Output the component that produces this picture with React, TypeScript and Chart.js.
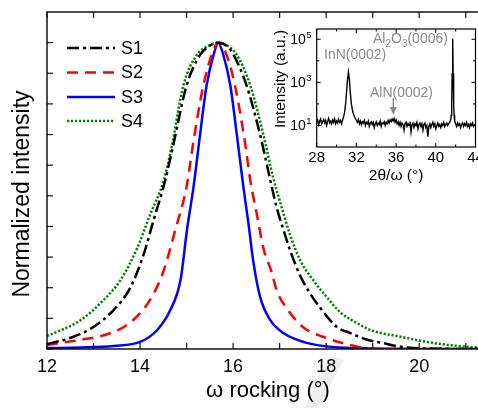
import React, { useEffect, useRef } from 'react';
import { Chart, registerables } from 'chart.js';

Chart.register(...registerables);

const FONT = "'Liberation Sans', Arial, Helvetica, sans-serif";
Chart.defaults.font.family = FONT;

// ---------------- Main panel: normalized rocking curves ----------------
const seriesNames = ['S1', 'S2', 'S3', 'S4'];

const s1Omega = [12, 12.57, 13.0, 13.43, 13.79, 14.08, 14.29, 14.54, 14.72, 15.0, 15.29, 15.5, 15.68, 15.86, 16.01, 16.29, 16.58, 16.8, 16.94, 17.08, 17.23, 17.44, 17.66, 17.87, 18.23, 18.52, 18.88, 19.2, 19.5, 20.0, 21.5];
const s1Intensity = [0.016, 0.04, 0.072, 0.127, 0.2, 0.31, 0.42, 0.55, 0.67, 0.86, 0.96, 0.99, 1.0, 0.99, 0.96, 0.86, 0.7, 0.55, 0.46, 0.39, 0.32, 0.24, 0.18, 0.135, 0.072, 0.052, 0.03, 0.02, 0.01, 0.002, 0.0];

const s2Omega = [12, 12.72, 13.22, 13.65, 14.0, 14.29, 14.51, 14.76, 15.0, 15.15, 15.36, 15.54, 15.68, 15.86, 16.04, 16.26, 16.37, 16.51, 16.65, 16.83, 16.94, 17.18, 17.5, 18.02, 18.52, 18.8, 19.2, 21.5];
const s2Intensity = [0.013, 0.03, 0.045, 0.072, 0.117, 0.18, 0.257, 0.39, 0.53, 0.68, 0.86, 0.96, 1.0, 0.96, 0.86, 0.67, 0.55, 0.44, 0.33, 0.25, 0.19, 0.127, 0.072, 0.035, 0.013, 0.004, 0.0, 0.0];

const s3Omega = [12, 12.72, 13.43, 14.0, 14.37, 14.65, 14.87, 15.01, 15.15, 15.29, 15.43, 15.58, 15.68, 15.79, 15.94, 16.08, 16.22, 16.33, 16.43, 16.58, 16.8, 17.08, 17.58, 18.3, 19.0, 21.5];
const s3Intensity = [0.003, 0.005, 0.01, 0.023, 0.062, 0.127, 0.225, 0.39, 0.53, 0.7, 0.86, 0.96, 1.0, 0.96, 0.86, 0.7, 0.53, 0.41, 0.29, 0.17, 0.094, 0.052, 0.02, 0.005, 0.002, 0.0];

const s4Omega = [12, 12.72, 13.15, 13.58, 13.94, 14.22, 14.51, 14.68, 14.93, 15.22, 15.48, 15.68, 15.88, 16.08, 16.37, 16.65, 16.86, 17.01, 17.23, 17.44, 17.72, 18.01, 18.3, 18.66, 18.95, 19.6, 20.17, 20.7, 21.16, 21.5];
const s4Intensity = [0.042, 0.094, 0.15, 0.225, 0.33, 0.44, 0.55, 0.66, 0.86, 0.96, 0.99, 1.0, 0.99, 0.96, 0.86, 0.7, 0.56, 0.48, 0.37, 0.29, 0.225, 0.17, 0.12, 0.085, 0.062, 0.04, 0.023, 0.012, 0.006, 0.004];

const omegaLabelTicks = [12, 14, 16, 18, 20];
const omegaMinorTicks = [12, 13, 14, 15, 16, 17, 18, 19, 20, 21];
const intensityTicks = [0, 0.1, 0.2, 0.3, 0.4, 0.5, 0.6, 0.7, 0.8, 0.9, 1.0];

// ---------------- Inset: 2theta/omega scan ----------------
const scanAngle = [
  28.0, 28.1, 28.2, 28.3, 28.4, 28.5, 28.6, 28.7, 28.8, 28.9,
  29.0, 29.1, 29.2, 29.3, 29.4, 29.5, 29.6, 29.7, 29.8, 29.9,
  30.0, 30.1, 30.2, 30.3, 30.4, 30.5, 30.6, 30.7, 30.8, 30.9,
  31.0, 31.1, 31.2, 31.3, 31.4, 31.5, 31.6, 31.7, 31.8, 31.9,
  32.0, 32.1, 32.2, 32.3, 32.4, 32.5, 32.6, 32.7, 32.8, 32.9,
  33.0, 33.1, 33.2, 33.3, 33.4, 33.5, 33.6, 33.7, 33.8, 33.9,
  34.0, 34.1, 34.2, 34.3, 34.4, 34.5, 34.6, 34.7, 34.8, 34.9,
  35.0, 35.1, 35.2, 35.3, 35.4, 35.5, 35.6, 35.7, 35.8, 35.9,
  36.0, 36.1, 36.2, 36.3, 36.4, 36.5, 36.6, 36.7, 36.8, 36.9,
  37.0, 37.1, 37.2, 37.3, 37.4, 37.5, 37.6, 37.7, 37.8, 37.9,
  38.0, 38.1, 38.2, 38.3, 38.4, 38.5, 38.6, 38.7, 38.8, 38.9,
  39.0, 39.1, 39.2, 39.3, 39.4, 39.5, 39.6, 39.7, 39.8, 39.9,
  40.0, 40.1, 40.2, 40.3, 40.4, 40.5, 40.6, 40.7, 40.8, 40.9,
  41.0, 41.1, 41.2, 41.3, 41.4, 41.5, 41.55, 41.6, 41.65, 41.7, 41.75, 41.8, 41.85, 41.9,
  42.0, 42.1, 42.2, 42.3, 42.4, 42.5, 42.6, 42.7, 42.8, 42.9,
  43.0, 43.1, 43.2, 43.3, 43.4, 43.5, 43.6, 43.7, 43.8, 43.9, 44.0,
];
const scanCounts = [
  14, 18, 11, 16, 20, 12, 15, 19, 13, 17,
  10, 15, 21, 13, 16, 12, 18, 14, 20, 12,
  16, 13, 19, 14, 17, 12, 18, 24, 38, 85,
  320, 1300, 3000, 1200, 280, 95, 52, 34, 26, 21,
  17, 14, 19, 12, 16, 11, 15, 13, 17, 10,
  14, 12, 16, 9, 13, 15, 11, 14, 8, 12,
  15, 10, 13, 11, 16, 9, 13, 12, 15, 10,
  14, 12, 17, 13, 18, 15, 20, 16, 21, 14,
  18, 12, 15, 10, 14, 9, 13, 11, 6, 12,
  14, 9, 12, 10, 15, 5, 11, 13, 8, 12,
  10, 14, 7, 11, 13, 9, 12, 6, 11, 13,
  8, 10, 3, 9, 12, 8, 11, 14, 9, 12,
  7, 10, 13, 9, 11, 8, 12, 10, 14, 9,
  11, 13, 10, 12, 14, 18, 30, 120, 2500, 110000, 2500, 90, 30, 16,
  12, 9, 13, 10, 12, 8, 11, 13, 9, 12,
  10, 14, 9, 11, 8, 12, 10, 13, 9, 11, 10,
];
const insetAngleTicks = [28, 32, 36, 40, 44];
const insetAngleMinor = [30, 34, 38, 42];
const insetDecadeTicks = [10, 1000, 100000];
const insetDecadeExponents = ['1', '3', '5'];
const insetMinorDecades = [100, 10000];

const toPoints = (xs: number[], ys: number[]) => xs.map((x, i) => ({ x, y: ys[i] }));

const line = (ctx: CanvasRenderingContext2D, x1: number, y1: number, x2: number, y2: number) => {
  ctx.beginPath();
  ctx.moveTo(x1, y1);
  ctx.lineTo(x2, y2);
  ctx.stroke();
};

const mainDecor = {
  id: 'mainDecor',
  beforeDraw(chart: any) {
    const { ctx } = chart;
    ctx.save();
    ctx.fillStyle = '#ffffff';
    ctx.fillRect(0, 0, chart.width, chart.height);
    // faint watermark stroke
    ctx.fillStyle = '#eeeeee';
    ctx.beginPath();
    ctx.moveTo(302, 412);
    ctx.lineTo(316, 412);
    ctx.lineTo(344, 360);
    ctx.lineTo(331, 355);
    ctx.closePath();
    ctx.fill();
    ctx.restore();
  },
  afterDraw(chart: any) {
    const { ctx, chartArea, scales } = chart;
    const { left, top, right, bottom } = chartArea;
    const x = scales.x;
    const y = scales.y;
    ctx.save();
    ctx.strokeStyle = '#111';
    ctx.lineWidth = 1.5;
    ctx.setLineDash([]);
    ctx.strokeRect(left, top, right - left, bottom - top);
    ctx.lineWidth = 1.2;
    omegaMinorTicks.forEach((v) => {
      const px = x.getPixelForValue(v);
      line(ctx, px, bottom, px, bottom - 6);
      line(ctx, px, top, px, top + 6);
    });
    intensityTicks.forEach((v) => {
      const py = y.getPixelForValue(v);
      line(ctx, left, py, left + 6, py);
      line(ctx, right, py, right - 6, py);
    });

    // legend
    const rows = [48, 72.5, 97, 121];
    chart.data.datasets.forEach((ds: any, i: number) => {
      const ry = rows[i];
      ctx.strokeStyle = ds.borderColor;
      ctx.lineWidth = ds.borderWidth;
      ctx.setLineDash(ds.borderDash || []);
      ctx.lineCap = 'butt';
      line(ctx, 67, ry, 115, ry);
      ctx.setLineDash([]);
      ctx.fillStyle = '#000';
      ctx.font = `18px ${FONT}`;
      ctx.textAlign = 'left';
      ctx.textBaseline = 'middle';
      ctx.fillText(ds.label, 121, ry + 1);
    });

    // y title
    ctx.save();
    ctx.translate(23, 194);
    ctx.rotate(-Math.PI / 2);
    ctx.fillStyle = '#000';
    ctx.font = `23px ${FONT}`;
    ctx.textAlign = 'center';
    ctx.textBaseline = 'middle';
    ctx.fillText('Normalized intensity', 0, 0);
    ctx.restore();
    ctx.restore();
  },
};

const insetDecor = {
  id: 'insetDecor',
  afterDraw(chart: any) {
    const { ctx, chartArea, scales } = chart;
    const { left, top, right, bottom } = chartArea;
    const x = scales.x;
    const y = scales.y;
    ctx.save();
    ctx.strokeStyle = '#000';
    ctx.lineWidth = 1.2;
    ctx.strokeRect(left, top, right - left, bottom - top);
    ctx.lineWidth = 1;
    insetAngleTicks.forEach((v) => {
      const px = x.getPixelForValue(v);
      line(ctx, px, bottom, px, bottom - 4);
      line(ctx, px, top, px, top + 4);
    });
    insetAngleMinor.forEach((v) => {
      const px = x.getPixelForValue(v);
      line(ctx, px, bottom, px, bottom - 2.5);
      line(ctx, px, top, px, top + 2.5);
    });
    insetDecadeTicks.forEach((v) => {
      const py = y.getPixelForValue(v);
      line(ctx, left, py, left + 4, py);
      line(ctx, right, py, right - 4, py);
    });
    insetMinorDecades.forEach((v) => {
      const py = y.getPixelForValue(v);
      line(ctx, left, py, left + 2.5, py);
      line(ctx, right, py, right - 2.5, py);
    });

    // tick labels
    ctx.fillStyle = '#000';
    ctx.textBaseline = 'middle';
    ctx.textAlign = 'center';
    ctx.font = `15px ${FONT}`;
    insetAngleTicks.forEach((v) => {
      ctx.fillText(String(v), x.getPixelForValue(v), bottom + 11);
    });
    insetDecadeTicks.forEach((v, i) => {
      const py = y.getPixelForValue(v);
      ctx.font = `14px ${FONT}`;
      ctx.textAlign = 'right';
      ctx.fillText('10', left - 11, py + 1);
      ctx.font = `9.5px ${FONT}`;
      ctx.textAlign = 'left';
      ctx.fillText(insetDecadeExponents[i], left - 10.5, py - 4);
    });

    // titles
    ctx.textAlign = 'center';
    ctx.font = `15.5px ${FONT}`;
    ctx.fillText('2\u03b8/\u03c9 (\u00b0)', (left + right) / 2, 158);
    ctx.save();
    ctx.translate(19, 61);
    ctx.rotate(-Math.PI / 2);
    ctx.fillText('Intensity (a.u.)', 0, 0);
    ctx.restore();

    // annotations
    const gray = '#8a8a8a';
    ctx.fillStyle = gray;
    ctx.strokeStyle = gray;
    ctx.font = `14px ${FONT}`;
    ctx.textAlign = 'left';
    ctx.fillText('InN(0002)', 62, 37);
    ctx.fillText('AlN(0002)', 108, 75);
    let ax = 111;
    const ay = 21;
    const piece = (t: string, size: number, dy: number) => {
      ctx.font = `${size}px ${FONT}`;
      ctx.fillText(t, ax, ay + dy);
      ax += ctx.measureText(t).width;
    };
    piece('Al', 14, 0);
    piece('2', 10, 5);
    piece('O', 14, 0);
    piece('3', 10, 5);
    piece('(0006)', 14, 0);

    const arrowX = x.getPixelForValue(35.72);
    ctx.lineWidth = 1.4;
    line(ctx, arrowX, 80, arrowX, 91);
    ctx.beginPath();
    ctx.moveTo(arrowX - 3.5, 89);
    ctx.lineTo(arrowX + 3.5, 89);
    ctx.lineTo(arrowX, 97);
    ctx.closePath();
    ctx.fill();
    ctx.restore();
  },
};

export default function App() {
  const mainRef = useRef<HTMLCanvasElement>(null);
  const insetRef = useRef<HTMLCanvasElement>(null);

  useEffect(() => {
    const common = { pointRadius: 0, fill: false, cubicInterpolationMode: 'monotone' as const, borderCapStyle: 'butt' as const };
    const main = new Chart(mainRef.current as HTMLCanvasElement, {
      type: 'line',
      data: {
        datasets: [
          { ...common, label: seriesNames[0], data: toPoints(s1Omega, s1Intensity), borderColor: '#000000', borderWidth: 2.5, borderDash: [12, 4, 3, 4] },
          { ...common, label: seriesNames[1], data: toPoints(s2Omega, s2Intensity), borderColor: '#ff0000', borderWidth: 2.5, borderDash: [11, 7] },
          { ...common, label: seriesNames[2], data: toPoints(s3Omega, s3Intensity), borderColor: '#0000ff', borderWidth: 2.5 },
          { ...common, label: seriesNames[3], data: toPoints(s4Omega, s4Intensity), borderColor: '#008000', borderWidth: 2.5, borderDash: [2.2, 1.8] },
        ],
      },
      options: {
        responsive: false,
        maintainAspectRatio: false,
        animation: false,
        layout: { padding: { left: 47, top: 12, right: 11, bottom: 0 } },
        plugins: { legend: { display: false }, tooltip: { enabled: false } },
        scales: {
          x: {
            type: 'linear',
            min: 12,
            max: 21.5,
            afterBuildTicks: (s: any) => {
              s.ticks = omegaLabelTicks.map((v) => ({ value: v }));
            },
            afterFit: (s: any) => {
              s.height = 59;
            },
            grid: { display: false, drawTicks: false },
            border: { display: false },
            ticks: { font: { size: 18, family: FONT }, color: '#000', padding: 7, maxRotation: 0, autoSkip: false },
            title: { display: true, text: '\u03c9 rocking (\u00b0)', color: '#000', font: { size: 22, family: FONT }, padding: { top: 0, bottom: 4 } },
          },
          y: { type: 'linear', min: 0, max: 1.1, display: false },
        },
      },
      plugins: [mainDecor],
    } as any);

    const inset = new Chart(insetRef.current as HTMLCanvasElement, {
      type: 'line',
      data: {
        datasets: [
          { data: toPoints(scanAngle, scanCounts), borderColor: '#000', borderWidth: 1.4, pointRadius: 0, tension: 0, fill: false },
        ],
      },
      options: {
        responsive: false,
        maintainAspectRatio: false,
        animation: false,
        layout: { padding: { left: 54.7, top: 11, right: 16.5, bottom: 46 } },
        plugins: { legend: { display: false }, tooltip: { enabled: false } },
        scales: {
          x: { type: 'linear', min: 28, max: 44, display: false },
          y: { type: 'logarithmic', min: 1, max: 300000, display: false },
        },
      },
      plugins: [insetDecor],
    } as any);

    return () => {
      main.destroy();
      inset.destroy();
    };
  }, []);

  return (
    <div style={{ position: 'fixed', left: 0, top: 0, width: 478, height: 408, overflow: 'hidden', background: '#fff' }}>
      <canvas ref={mainRef} width={500} height={408} style={{ position: 'absolute', left: 0, top: 0, width: 500, height: 408 }} />
      <canvas ref={insetRef} width={230} height={175} style={{ position: 'absolute', left: 262, top: 18, width: 230, height: 175 }} />
    </div>
  );
}
